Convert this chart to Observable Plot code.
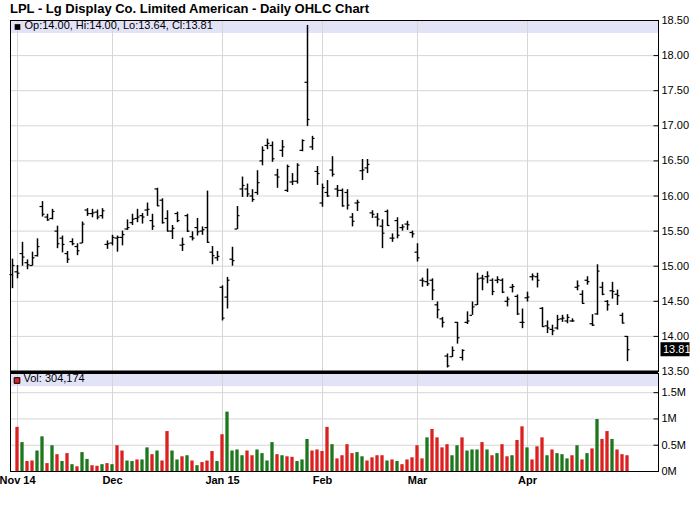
<!DOCTYPE html>
<html><head><meta charset="utf-8">
<script src="https://cdn.jsdelivr.net/npm/d3@7"></script>
<script src="https://cdn.jsdelivr.net/npm/@observablehq/plot@0.6"></script>
<style>
body{margin:0;background:#fff;font-family:"Liberation Sans",Arial,sans-serif}
#wrap{position:relative;width:700px;height:512px;overflow:hidden;background:#fff}
#title{position:absolute;left:10px;top:1px;font-size:13px;line-height:15px;font-weight:bold;color:#000}
#price{position:absolute;left:0;top:0}
#vol{position:absolute;left:0;top:371px}
svg{overflow:visible}
</style></head><body>
<div id="wrap"><div id="vol"></div><div id="price"></div><div id="title">LPL - Lg Display Co. Limited American - Daily OHLC Chart</div></div>
<script>
// Daily bars (trading-day order, Oct 31 2014 .. Apr 30 2015)
const open  = [14.88,14.92,15.18,15.05,15.01,15.15,15.85,15.70,15.68,15.50,15.40,15.18,15.35,15.28,15.33,15.80,15.75,15.77,15.72,15.31,
15.33,15.40,15.41,15.53,15.62,15.68,15.72,15.80,15.65,16.10,15.94,15.68,15.50,15.75,15.30,15.72,15.42,15.55,15.50,15.55,
15.20,15.12,14.70,14.56,15.10,15.53,16.10,16.10,16.00,16.05,16.50,16.72,16.72,16.30,16.65,16.08,16.20,16.21,16.65,17.62,
16.70,16.35,15.90,16.05,16.37,16.10,16.08,16.05,15.70,15.90,16.36,16.40,15.76,15.70,15.57,15.78,15.40,15.65,15.55,15.60,
15.48,15.20,14.80,14.78,14.80,14.45,14.25,13.72,13.71,14.20,13.70,14.20,14.30,14.45,14.83,14.85,14.80,14.80,14.80,14.50,
14.70,14.57,14.20,14.55,14.85,14.85,14.40,14.15,14.10,14.12,14.25,14.22,14.22,14.70,14.60,14.80,14.18,14.32,14.70,14.50,
14.65,14.60,14.30,14.00];
const high  = [15.10,15.01,15.34,15.09,15.20,15.39,15.92,15.74,15.81,15.57,15.43,15.21,15.39,15.32,15.63,15.82,15.81,15.80,15.82,15.36,
15.44,15.43,15.50,15.66,15.74,15.81,15.75,15.90,15.74,16.11,15.96,15.79,15.58,15.77,15.40,15.74,15.49,15.68,15.56,16.07,
15.28,15.21,14.72,14.84,15.27,15.85,16.27,16.17,16.09,16.36,16.70,16.81,16.77,16.38,16.79,16.44,16.32,16.46,16.80,18.43,
16.85,16.42,16.17,16.22,16.56,16.15,16.10,16.09,15.75,15.94,16.52,16.52,15.79,15.75,15.66,15.80,15.46,15.69,15.59,15.64,
15.50,15.32,14.83,14.96,14.82,14.49,14.27,13.75,13.85,14.20,13.81,14.35,14.49,14.90,14.87,14.92,14.82,14.85,14.82,14.56,
14.74,14.59,14.39,14.63,14.89,14.90,14.41,14.22,14.16,14.30,14.30,14.31,14.25,14.79,14.65,14.85,14.31,15.02,14.77,14.51,
14.77,14.66,14.33,14.00];
const low   = [14.68,14.82,15.00,14.95,15.00,15.13,15.70,15.64,15.66,15.25,15.19,15.04,15.29,15.15,15.32,15.71,15.69,15.66,15.67,15.24,
15.29,15.20,15.29,15.51,15.58,15.62,15.60,15.71,15.51,15.85,15.60,15.49,15.38,15.62,15.21,15.48,15.36,15.43,15.44,15.33,
15.02,15.07,14.22,14.39,15.00,15.52,15.98,15.98,15.91,16.01,16.43,16.66,16.48,16.11,16.55,16.05,16.15,16.17,16.63,16.99,
16.65,16.15,15.84,15.98,16.27,15.98,15.84,15.80,15.56,15.78,16.22,16.32,15.68,15.56,15.25,15.57,15.34,15.39,15.50,15.51,
15.40,15.06,14.70,14.71,14.51,14.25,14.12,13.55,13.70,13.89,13.65,14.17,14.30,14.44,14.65,14.75,14.58,14.75,14.61,14.42,
14.62,14.30,14.11,14.49,14.79,14.69,14.13,14.04,14.01,14.09,14.20,14.18,14.20,14.65,14.46,14.73,14.14,14.30,14.58,14.36,
14.53,14.44,14.18,13.64];
const close = [15.01,14.90,15.13,15.02,15.12,15.28,15.74,15.66,15.78,15.32,15.31,15.10,15.32,15.22,15.60,15.75,15.76,15.70,15.79,15.32,
15.41,15.41,15.45,15.55,15.67,15.70,15.70,15.81,15.57,15.86,15.62,15.50,15.54,15.65,15.31,15.50,15.40,15.49,15.52,15.34,
15.15,15.14,14.26,14.80,15.08,15.72,16.15,16.03,15.95,16.19,16.65,16.75,16.53,16.27,16.70,16.42,16.21,16.44,16.79,17.09,
16.82,16.32,16.12,16.00,16.31,16.08,15.86,15.87,15.64,15.91,16.37,16.45,15.74,15.67,15.47,15.58,15.40,15.44,15.56,15.59,
15.46,15.12,14.79,14.75,14.66,14.38,14.20,13.58,13.80,13.98,13.80,14.22,14.42,14.82,14.82,14.86,14.64,14.81,14.63,14.53,
14.71,14.32,14.20,14.56,14.86,14.80,14.14,14.12,14.08,14.24,14.26,14.27,14.22,14.72,14.47,14.78,14.16,14.93,14.60,14.45,
14.64,14.58,14.19,13.81];
// volume in millions of shares (no bar shown for the first session), and bar colour (g = green, r = red)
const volume = [null,0.84,0.55,0.19,0.20,0.39,0.66,0.15,0.49,0.32,0.19,0.34,0.13,0.09,0.36,0.23,0.11,0.10,0.13,0.15,0.13,
0.49,0.39,0.20,0.19,0.22,0.22,0.45,0.32,0.39,0.20,0.76,0.39,0.22,0.28,0.30,0.20,0.11,0.17,0.20,0.38,
0.19,0.70,1.13,0.39,0.41,0.30,0.39,0.30,0.41,0.34,0.20,0.55,0.32,0.30,0.28,0.27,0.19,0.22,0.61,0.39,
0.41,0.38,0.84,0.51,0.24,0.30,0.51,0.34,0.36,0.28,0.20,0.26,0.30,0.30,0.20,0.22,0.19,0.13,0.22,0.26,
0.49,0.24,0.64,0.80,0.64,0.45,0.51,0.30,0.49,0.64,0.39,0.41,0.41,0.55,0.41,0.30,0.34,0.51,0.28,0.30,
0.59,0.85,0.45,0.22,0.47,0.64,0.30,0.41,0.34,0.32,0.24,0.30,0.49,0.22,0.34,0.43,0.99,0.61,0.76,
0.61,0.41,0.32,0.30];
const volColor = ("-" + "rgrrggrgrg" + "rgrggrrgrg" + "rrggrggrgr" + "rggrgrgrrr" + "grggggrrgg" + "ggrgrrgggr" +
  "rrrgrrrrgg" + "rrrrgrgrrr" + "rrgrrrrggr" + "gggrgrgrrg" + "rrgrrrgrg" + "ggrgrgrgrr" + "grrr").split("");
// month gridlines: trading-day index of first session of each month
const monthIdx = [1, 20, 42, 62, 81, 103];
const monthLabels = ["Nov 14", "Dec", "Jan 15", "Feb", "Mar", "Apr"];
const priceTicks = [13.5,14,14.5,15,15.5,16,16.5,17,17.5,18,18.5];
const volTicks = [0, 0.5, 1, 1.5];
const volTickLabels = ["0M", "0.5M", "1M", "1.5M"];
const lastVolume = "304,174";

const bars = open.map((o, i) => ({i, open: o, high: high[i], low: low[i], close: close[i], vol: volume[i], up: volColor[i] === "g"}));
const last = bars[bars.length - 1];
const xDomain = [-0.4, 129.2];
const red = "#dc1f1f", green = "#1d781d", lav = "#e3e3f8", grid = "#d6d6d6";
const f2 = d => d.toFixed(2);

const price = Plot.plot({
  width: 700, height: 373,
  marginLeft: 10, marginRight: 42, marginTop: 20, marginBottom: 2,
  style: {background: "transparent", overflow: "visible", fontFamily: "Liberation Sans, Arial, sans-serif", fontSize: "11px", color: "#000"},
  x: {type: "linear", domain: xDomain, axis: null},
  y: {domain: [13.5, 18.5], axis: null},
  marks: [
    Plot.rect([0], {x1: xDomain[0], x2: xDomain[1], y1: 18.5, y2: 18.5 - 0.185, fill: lav}),
    Plot.ruleY(priceTicks, {stroke: grid}),
    Plot.ruleX(monthIdx, {stroke: grid}),
    Plot.ruleX(bars, {x: "i", y1: "low", y2: "high", stroke: "#000", strokeWidth: 1.5}),
    Plot.ruleY(bars, {y: "open", x1: d => d.i - 0.5, x2: "i", stroke: "#000", strokeWidth: 1.2}),
    Plot.ruleY(bars, {y: "close", x1: "i", x2: d => d.i + 0.5, stroke: "#000", strokeWidth: 1.2}),
    Plot.ruleY(priceTicks, {x1: xDomain[1] - 0.9, x2: xDomain[1], stroke: "#000"}),
    Plot.frame({stroke: "#000"}),
    Plot.ruleY([13.5], {stroke: "#000", strokeWidth: 3, dy: 0.5}),
    Plot.axisY(priceTicks, {anchor: "right", label: null, tickSize: 0, tickPadding: 3, tickFormat: f2, fontSize: 11}),
    Plot.rect([last], {x1: xDomain[1] + 0.5, x2: xDomain[1] + 6.3, y1: d => d.close - 0.1, y2: d => d.close + 0.1, fill: "#000"}),
    Plot.text([last], {x: xDomain[1] + 0.9, y: "close", text: d => f2(d.close), fill: "#fff", textAnchor: "start", fontSize: 11}),
    Plot.dot([last], {frameAnchor: "top-left", dx: 7, dy: 6.5, symbol: "square", r: 3.2, fill: "#000"}),
    Plot.text([last], {frameAnchor: "top-left", dx: 14, dy: 1, lineAnchor: "top", textAnchor: "start", fontSize: 11,
      text: d => `Op:${f2(d.open)}, Hi:${f2(d.high)}, Lo:${f2(d.low)}, Cl:${f2(d.close)}`})
  ]
});
document.getElementById("price").append(price);

const vol = Plot.plot({
  width: 700, height: 141,
  marginLeft: 10, marginRight: 42, marginTop: 2, marginBottom: 41,
  style: {background: "transparent", overflow: "visible", fontFamily: "Liberation Sans, Arial, sans-serif", fontSize: "11px", color: "#000"},
  x: {type: "linear", domain: xDomain, axis: null},
  y: {domain: [0, 1.865], axis: null},
  marks: [
    Plot.rect([0], {x1: xDomain[0], x2: xDomain[1], y1: 1.865, y2: 1.865 - 0.25, fill: lav}),
    Plot.ruleY(volTicks, {stroke: grid}),
    Plot.ruleX(monthIdx, {stroke: grid}),
    Plot.rectY(bars.filter(d => d.vol != null), {x1: d => d.i - 0.33, x2: d => d.i + 0.33, y: "vol", fill: d => d.up ? green : red}),
    Plot.ruleY(volTicks, {x1: xDomain[1] - 0.9, x2: xDomain[1], stroke: "#000"}),
    Plot.frame({stroke: "#000"}),
    Plot.axisY(volTicks, {anchor: "right", label: null, tickSize: 0, tickPadding: 3, tickFormat: (d, i) => volTickLabels[i], fontSize: 11}),
    Plot.axisX(monthIdx, {anchor: "bottom", label: null, tickSize: 0, tickPadding: 5, tickFormat: (d, i) => monthLabels[i], fontSize: 11, fontWeight: "bold"}),
    Plot.dot([last], {frameAnchor: "top-left", dx: 6.5, dy: 7, symbol: "square", r: 3.2, fill: red, stroke: "#000", strokeWidth: 1}),
    Plot.text([lastVolume], {frameAnchor: "top-left", dx: 13, dy: 1, lineAnchor: "top", textAnchor: "start", fontSize: 11,
      text: d => `Vol: ${d}`})
  ]
});
document.getElementById("vol").append(vol);
</script>
</body></html>
